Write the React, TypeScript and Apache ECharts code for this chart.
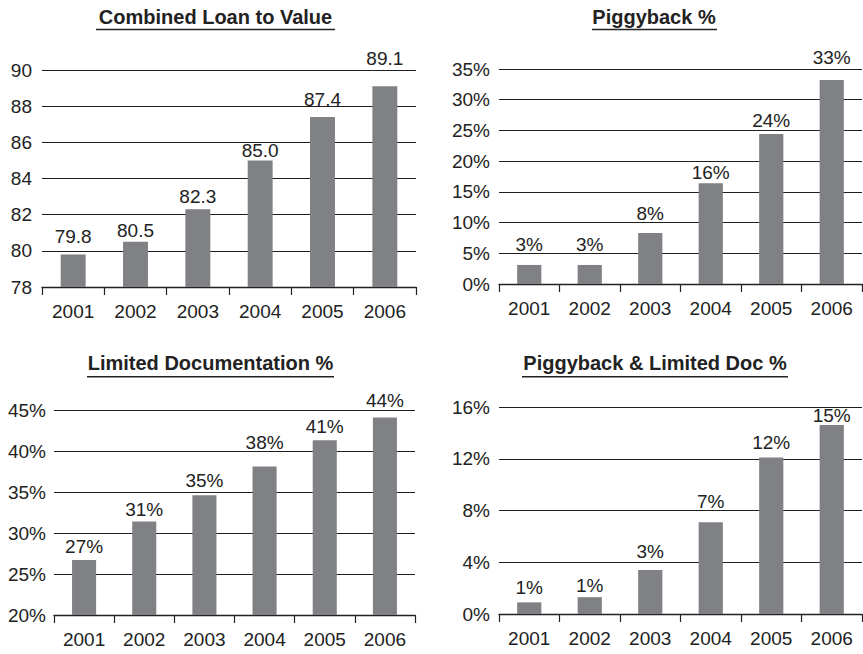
import React, { useEffect, useRef } from "react";
import * as echarts from "echarts";

// ---- data ----
const years = ["2001", "2002", "2003", "2004", "2005", "2006"];
const combinedLtv = [79.8, 80.5, 82.3, 85.0, 87.4, 89.1];
const piggybackPct = [3.1, 3.1, 8.3, 16.4, 24.4, 33.2];
const limitedDocPct = [26.7, 31.4, 34.6, 38.1, 41.3, 44.1];
const piggyLimitedPct = [0.9, 1.3, 3.4, 7.1, 12.1, 14.6];

const titles = [
  "Combined Loan to Value",
  "Piggyback %",
  "Limited Documentation %",
  "Piggyback & Limited Doc %",
];

// ---- styling ----
const FONT = "'Liberation Sans', Arial, Helvetica, sans-serif";
const TXT = "#222";
const BAR = "#808185";

const panels = [
  { grid: { left: 42, top: 70, width: 374, height: 217 }, min: 78, max: 90, interval: 2, pct: false, dec: 1, data: combinedLtv, gaps: [8, 1.5, 3, 0, 8, 18], ylm: 10,
    title: { x: 215.5, y: 16.5, u0: 96, u1: 335, uy: 29.5 } },
  { grid: { left: 499, top: 69, width: 363, height: 215 }, min: 0, max: 35, interval: 5, pct: true, dec: 0, data: piggybackPct, gaps: [11, 11, 10.5, 1, 4.5, 13.5], ylm: 9,
    title: { x: 654, y: 16.5, u0: 592, u1: 717, uy: 29.5 } },
  { grid: { left: 54, top: 410, width: 361, height: 205 }, min: 20, max: 45, interval: 5, pct: true, dec: 0, data: limitedDocPct, gaps: [4, 2.5, 5.5, 15, 4, 7], ylm: 8,
    title: { x: 210.5, y: 363, u0: 87, u1: 334, uy: 376.7 } },
  { grid: { left: 499, top: 407, width: 363, height: 207 }, min: 0, max: 16, interval: 4, pct: true, dec: 0, data: piggyLimitedPct, gaps: [5, 2, 9.5, 11, 5, 0], ylm: 9,
    title: { x: 655, y: 363, u0: 522, u1: 788, uy: 376.7 } },
];

export default function App() {
  const ref = useRef<HTMLDivElement>(null);
  useEffect(() => {
    if (!ref.current) return;
    const chart = echarts.init(ref.current, undefined, { renderer: "svg" });
    const graphics: any[] = [];
    panels.forEach((p, i) => {
      graphics.push({
        type: "text",
        x: p.title.x,
        y: p.title.y,
        style: {
          text: titles[i],
          fontSize: 20,
          fontWeight: "bold",
          fontFamily: FONT,
          fill: TXT,
          align: "center",
          verticalAlign: "middle",
        },
      });
      graphics.push({
        type: "line",
        shape: { x1: p.title.u0, y1: p.title.uy, x2: p.title.u1, y2: p.title.uy },
        style: { stroke: TXT, lineWidth: 1.6 },
      });
    });
    const option: any = {
      animation: false,
      backgroundColor: "#fff",
      grid: panels.map((p) => ({ ...p.grid, containLabel: false })),
      xAxis: panels.map((p, i) => ({
        type: "category",
        gridIndex: i,
        data: years,
        axisLine: { show: true, lineStyle: { color: TXT, width: 1.4 } },
        axisTick: { show: true, length: 8, lineStyle: { color: TXT, width: 1.2 } },
        axisLabel: { color: TXT, fontSize: 19, fontFamily: FONT, margin: 15 },
        splitLine: { show: false },
      })),
      yAxis: panels.map((p, i) => ({
        type: "value",
        gridIndex: i,
        min: p.min,
        max: p.max,
        interval: p.interval,
        axisLine: { show: false },
        axisTick: { show: false },
        axisLabel: {
          color: TXT,
          fontSize: 19,
          fontFamily: FONT,
          margin: p.ylm,
          formatter: p.pct ? "{value}%" : "{value}",
        },
        splitLine: { show: true, lineStyle: { color: "#1e1e1e", width: 1.1 } },
      })),
      series: panels.map((p, i) => ({
        type: "bar",
        xAxisIndex: i,
        yAxisIndex: i,
        barWidth: "40%",
        itemStyle: { color: BAR },
        data: p.data.map((v, k) => ({
          value: v,
          label: { distance: p.gaps[k] },
        })),
        label: {
          show: true,
          position: "top",
          color: TXT,
          fontSize: 19,
          fontFamily: FONT,
          formatter: (d: any) =>
            p.pct ? Math.round(d.value) + "%" : Number(d.value).toFixed(p.dec),
        },
      })),
      graphic: graphics,
    };
    chart.setOption(option);
    return () => chart.dispose();
  }, []);
  return (
    <div
      ref={ref}
      style={{ position: "fixed", left: 0, top: 0, width: 863, height: 654, background: "#fff" }}
    />
  );
}
